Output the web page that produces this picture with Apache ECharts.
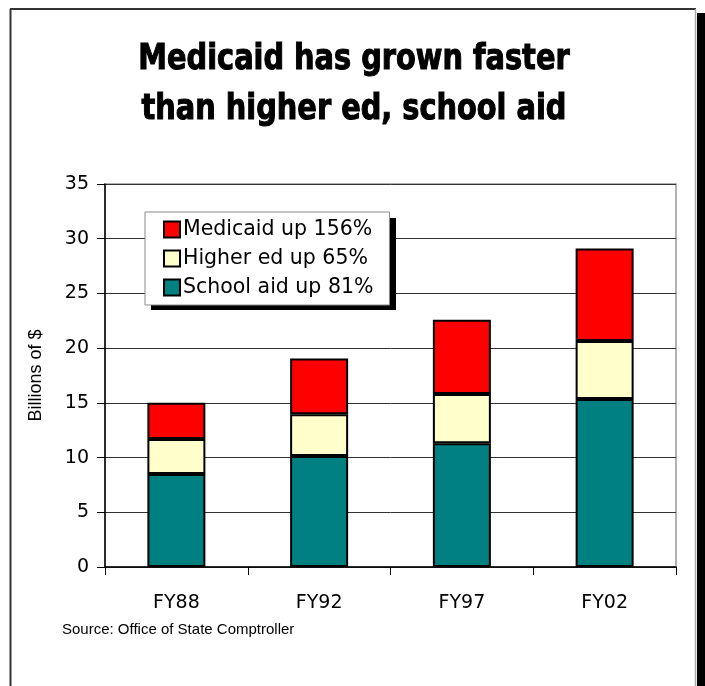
<!DOCTYPE html>
<html>
<head>
<meta charset="utf-8">
<script src="https://cdn.jsdelivr.net/npm/echarts@6/dist/echarts.min.js"></script>
<style>
html,body{margin:0;padding:0;background:#fff;}
#chart{width:705px;height:686px;}
</style>
</head>
<body>
<div id="chart"></div>
<script>
const categories = ['FY88', 'FY92', 'FY97', 'FY02'];
const schoolAid = [8.5, 10.15, 11.3, 15.35];
const higherEd = [3.2, 3.8, 4.5, 5.3];
const medicaid = [3.3, 5.1, 6.8, 8.45];
const seriesNames = ['School aid up 81%', 'Higher ed up 65%', 'Medicaid up 156%'];
const legendOrder = ['Medicaid up 156%', 'Higher ed up 65%', 'School aid up 81%'];
const titleLines = ['Medicaid has grown faster', 'than higher ed, school aid'];
const yAxisName = 'Billions of $';
const sourceText = 'Source: Office of State Comptroller';

const chart = echarts.init(document.getElementById('chart'));
const barStyle = (c) => ({ color: c, borderColor: '#000', borderWidth: 2 });
const tickFont = '"DejaVu Sans", Verdana, sans-serif';
const titleFont = 'bold 35px "DejaVu Sans Condensed", "DejaVu Sans", sans-serif';

chart.setOption({
  animation: false,
  backgroundColor: '#fff',
  grid: {
    left: 105, right: 29, top: 184, bottom: 119,
    show: true, borderColor: '#999', borderWidth: 1.5
  },
  legend: {
    orient: 'vertical',
    left: 145, top: 212,
    z: 10,
    data: legendOrder,
    itemWidth: 16, itemHeight: 16, itemGap: 8,
    padding: [7, 16, 7, 18],
    backgroundColor: '#fff',
    borderColor: '#888', borderWidth: 1,
    textStyle: { fontFamily: tickFont, fontSize: 20.5, color: '#000', padding: [0,0,0,-2] },
    itemStyle: { borderColor: '#000', borderWidth: 2 },
    icon: 'rect'
  },
  xAxis: {
    type: 'category',
    data: categories,
    axisLine: { lineStyle: { color: '#000', width: 1.5 } },
    axisTick: { show: true, length: 8, lineStyle: { color: '#000' } },
    axisLabel: { fontFamily: tickFont, fontSize: 19, color: '#000', margin: 27 }
  },
  yAxis: {
    type: 'value',
    min: 0, max: 35, interval: 5,
    name: yAxisName,
    nameLocation: 'middle',
    nameGap: 60,
    nameTextStyle: { fontFamily: '"Liberation Sans", Arial, sans-serif', fontSize: 18, color: '#000' },
    axisLine: { show: true, lineStyle: { color: '#000', width: 1.5 } },
    axisTick: { show: true, length: 8, lineStyle: { color: '#000' } },
    axisLabel: { fontFamily: tickFont, fontSize: 19, color: '#000', margin: 16 },
    splitLine: { lineStyle: { color: '#333', width: 1 } }
  },
  series: [
    { name: seriesNames[0], type: 'bar', stack: 'total', data: schoolAid, barWidth: 58, itemStyle: barStyle('#008080') },
    { name: seriesNames[1], type: 'bar', stack: 'total', data: higherEd, barWidth: 58, itemStyle: barStyle('#FFFFCC') },
    { name: seriesNames[2], type: 'bar', stack: 'total', data: medicaid, barWidth: 58, itemStyle: barStyle('#FF0000') }
  ],
  graphic: [
    { type: 'rect', z: -1, shape: { x: 697, y: 13, width: 10, height: 680 }, style: { fill: '#000' } },
    { type: 'line', shape: { x1: 10, y1: 9, x2: 696, y2: 9 }, style: { stroke: '#333', lineWidth: 2 } },
    { type: 'line', shape: { x1: 10.5, y1: 9, x2: 10.5, y2: 690 }, style: { stroke: '#333', lineWidth: 2 } },
    { type: 'line', shape: { x1: 695.5, y1: 9, x2: 695.5, y2: 690 }, style: { stroke: '#aaa', lineWidth: 1.5 } },
    { type: 'rect', z: 5, shape: { x: 151, y: 218, width: 245, height: 92 }, style: { fill: '#000' } },
    { type: 'text', x: 354, y: 60, scaleX: 0.915, style: { text: titleLines[0], font: titleFont, fill: '#000', stroke: '#000', lineWidth: 1, textAlign: 'center', textVerticalAlign: 'middle' } },
    { type: 'text', x: 354, y: 110, scaleX: 0.915, style: { text: titleLines[1], font: titleFont, fill: '#000', stroke: '#000', lineWidth: 1, textAlign: 'center', textVerticalAlign: 'middle' } },
    { type: 'text', left: 62, top: 622, style: { text: sourceText, font: '15px "Liberation Sans", Arial, sans-serif', fill: '#000' } }
  ]
});
</script>
</body>
</html>
